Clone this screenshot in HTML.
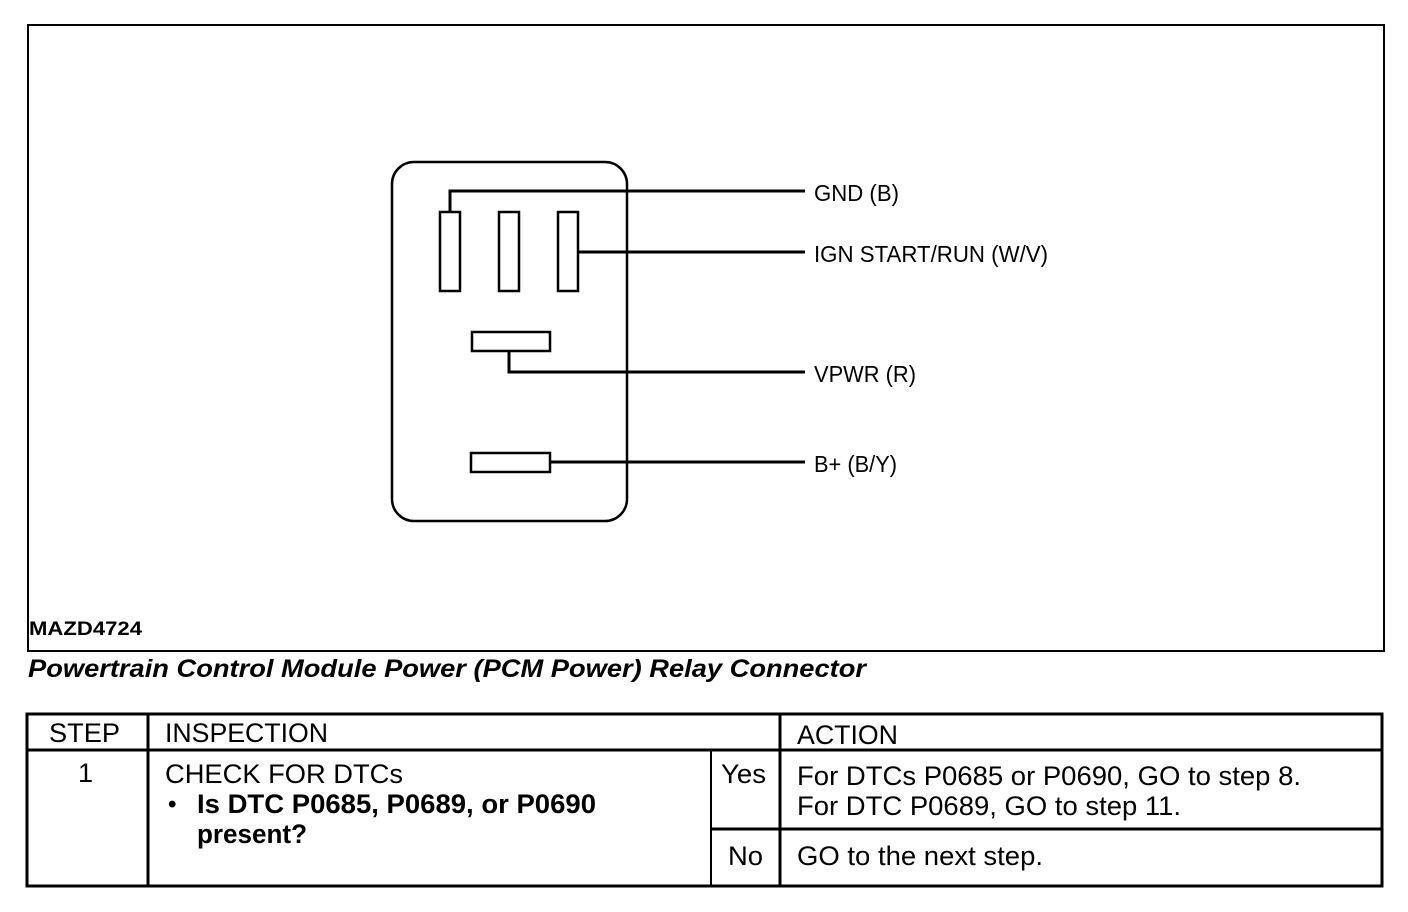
<!DOCTYPE html>
<html><head><meta charset="utf-8"><style>
html,body{margin:0;padding:0;background:#fff;}
svg{display:block;}
text{font-family:"Liberation Sans",sans-serif;fill:#000;}
</style></head><body>
<svg width="1408" height="912" viewBox="0 0 1408 912" xmlns="http://www.w3.org/2000/svg">
<rect x="0" y="0" width="1408" height="912" fill="#fff"/>
<rect x="28" y="25" width="1356" height="626" fill="none" stroke="#000" stroke-width="2"/>
<rect x="392" y="162" width="235" height="359" rx="22" ry="22" fill="none" stroke="#000" stroke-width="2.5"/>
<g fill="#fff" stroke="#000" stroke-width="2.5">
<rect x="440" y="212" width="20" height="79"/>
<rect x="499" y="212" width="20" height="79"/>
<rect x="558" y="212" width="20" height="79"/>
<rect x="472" y="332" width="78" height="19"/>
<rect x="471" y="453" width="79" height="19"/>
</g>
<g fill="none" stroke="#000" stroke-width="3">
<polyline points="450,212 450,191 805,191"/>
<line x1="578" y1="252" x2="805" y2="252"/>
<polyline points="509,351 509,372 805,372"/>
<line x1="550" y1="462" x2="805" y2="462"/>
</g>
<g font-size="23">
<text x="814" y="201" textLength="85" lengthAdjust="spacingAndGlyphs">GND (B)</text>
<text x="814" y="262" textLength="234" lengthAdjust="spacingAndGlyphs">IGN START/RUN (W/V)</text>
<text x="814" y="382" textLength="102" lengthAdjust="spacingAndGlyphs">VPWR (R)</text>
<text x="814" y="472" textLength="83" lengthAdjust="spacingAndGlyphs">B+ (B/Y)</text>
</g>
<text x="29" y="635" font-size="19" font-weight="bold" textLength="113" lengthAdjust="spacingAndGlyphs">MAZD4724</text>
<text x="28" y="677" font-size="25" font-weight="bold" font-style="italic" textLength="838" lengthAdjust="spacingAndGlyphs">Powertrain Control Module Power (PCM Power) Relay Connector</text>
<g fill="none" stroke="#000">
<rect x="27" y="714" width="1355" height="172" stroke-width="3"/>
<line x1="27" y1="750" x2="1382" y2="750" stroke-width="3"/>
<line x1="148" y1="714" x2="148" y2="886" stroke-width="3"/>
<line x1="780" y1="714" x2="780" y2="886" stroke-width="3"/>
<line x1="711" y1="750" x2="711" y2="886" stroke-width="2"/>
<line x1="711" y1="829" x2="1382" y2="829" stroke-width="3"/>
</g>
<g font-size="27">
<text x="49" y="742" textLength="71" lengthAdjust="spacingAndGlyphs">STEP</text>
<text x="165" y="742" textLength="163" lengthAdjust="spacingAndGlyphs">INSPECTION</text>
<text x="797" y="744" textLength="101" lengthAdjust="spacingAndGlyphs">ACTION</text>
<text x="78" y="782">1</text>
<text x="165" y="783" textLength="238" lengthAdjust="spacingAndGlyphs">CHECK FOR DTCs</text>
<text x="168" y="812" font-weight="bold" font-size="24">•</text>
<text x="197" y="813" font-weight="bold" textLength="399" lengthAdjust="spacingAndGlyphs">Is DTC P0685, P0689, or P0690</text>
<text x="197" y="843" font-weight="bold" textLength="110" lengthAdjust="spacingAndGlyphs">present?</text>
<text x="721" y="783" textLength="45" lengthAdjust="spacingAndGlyphs">Yes</text>
<text x="728" y="865" textLength="35" lengthAdjust="spacingAndGlyphs">No</text>
<text x="797" y="785" textLength="504" lengthAdjust="spacingAndGlyphs">For DTCs P0685 or P0690, GO to step 8.</text>
<text x="797" y="815" textLength="384" lengthAdjust="spacingAndGlyphs">For DTC P0689, GO to step 11.</text>
<text x="797" y="865" textLength="246" lengthAdjust="spacingAndGlyphs">GO to the next step.</text>
</g>
</svg>
</body></html>
